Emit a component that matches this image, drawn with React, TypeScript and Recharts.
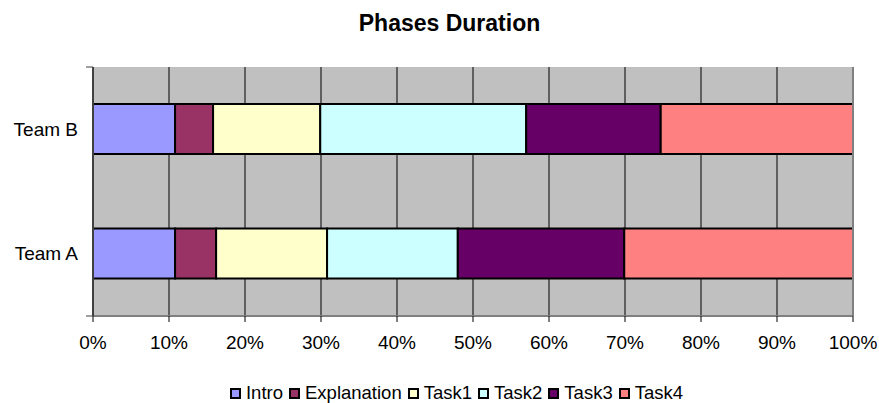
import { Bar, BarChart, CartesianGrid, ReferenceLine, XAxis, YAxis } from "recharts";

const teams = ["Team B", "Team A"];
const phases = ["Intro", "Explanation", "Task1", "Task2", "Task3", "Task4"];
const colors = ["#9999FF", "#993366", "#FFFFCC", "#CCFFFF", "#660066", "#FF8080"];
const teamB = [10.8, 5.0, 14.1, 27.1, 17.7, 25.3];
const teamA = [10.8, 5.4, 14.6, 17.2, 21.9, 30.1];
const pctTicks = [0, 10, 20, 30, 40, 50, 60, 70, 80, 90, 100];
const edgeTicks = [0, 1, 2];

const values = [teamB, teamA];
const data = teams.map((team, i) => {
  const row: Record<string, string | number> = { team };
  phases.forEach((p, j) => {
    row[p] = values[i][j];
  });
  return row;
});

const font = "'Liberation Sans', Arial, sans-serif";

function LegendBox() {
  return (
    <div
      style={{
        position: "absolute",
        top: 382,
        left: 20,
        width: 879,
        display: "flex",
        justifyContent: "center",
        fontFamily: font,
        fontSize: 18.5,
        color: "#000",
      }}
    >
      {phases.map((p, i) => (
        <span key={p} style={{ display: "flex", alignItems: "center", marginRight: 6 }}>
          <span
            style={{
              width: 7,
              height: 7,
              border: "2px solid #000",
              background: colors[i],
              marginRight: 5,
            }}
          />
          {p}
        </span>
      ))}
    </div>
  );
}

export default function App() {
  return (
    <div style={{ position: "absolute", left: 0, top: 0, width: 879, height: 403, background: "#fff" }}>
      <div
        style={{
          position: "absolute",
          top: 10,
          left: 10,
          width: 879,
          textAlign: "center",
          fontFamily: font,
          fontWeight: "bold",
          fontSize: 23,
        }}
      >
        Phases Duration
      </div>
      <BarChart
        width={879}
        height={403}
        data={data}
        layout="vertical"
        margin={{ top: 67, right: 26, left: 0, bottom: 57 }}
        style={{ fontFamily: font }}
      >
        <CartesianGrid
          horizontal={false}
          stroke="#000"
          fill="#C0C0C0"
          fillOpacity={1}
          yAxisId="teams"
        />
        <XAxis
          type="number"
          domain={[0, 100]}
          ticks={pctTicks}
          tickFormatter={(v) => `${v}%`}
          height={30}
          tickSize={6}
          tickMargin={14}
          axisLine={{ stroke: "#808080", strokeWidth: 2 }}
          tickLine={{ stroke: "#000" }}
          tick={{ fill: "#000", fontSize: 19 }}
        />
        <YAxis
          yAxisId="teams"
          type="category"
          dataKey="team"
          width={92}
          axisLine={false}
          tickLine={false}
          tickSize={6}
          tickMargin={8}
          tick={{ fill: "#000", fontSize: 19 }}
        />
        <YAxis
          yAxisId="edge"
          type="number"
          domain={[0, 2]}
          ticks={edgeTicks}
          allowDataOverflow
          width={1}
          tickFormatter={() => ""}
          tickSize={7}
          axisLine={{ stroke: "#404040", strokeWidth: 2 }}
          tickLine={{ stroke: "#404040" }}
        />
        {phases.map((p, i) => (
          <Bar
            key={p}
            yAxisId="teams"
            dataKey={p}
            stackId="a"
            fill={colors[i]}
            stroke="#000"
            strokeWidth={2}
            barSize={50}
            isAnimationActive={false}
          />
        ))}
        <ReferenceLine yAxisId="edge" y={2} stroke="#808080" strokeWidth={2} />
        <ReferenceLine yAxisId="edge" x={100} stroke="#808080" strokeWidth={2} />
      </BarChart>
      <LegendBox />
    </div>
  );
}
